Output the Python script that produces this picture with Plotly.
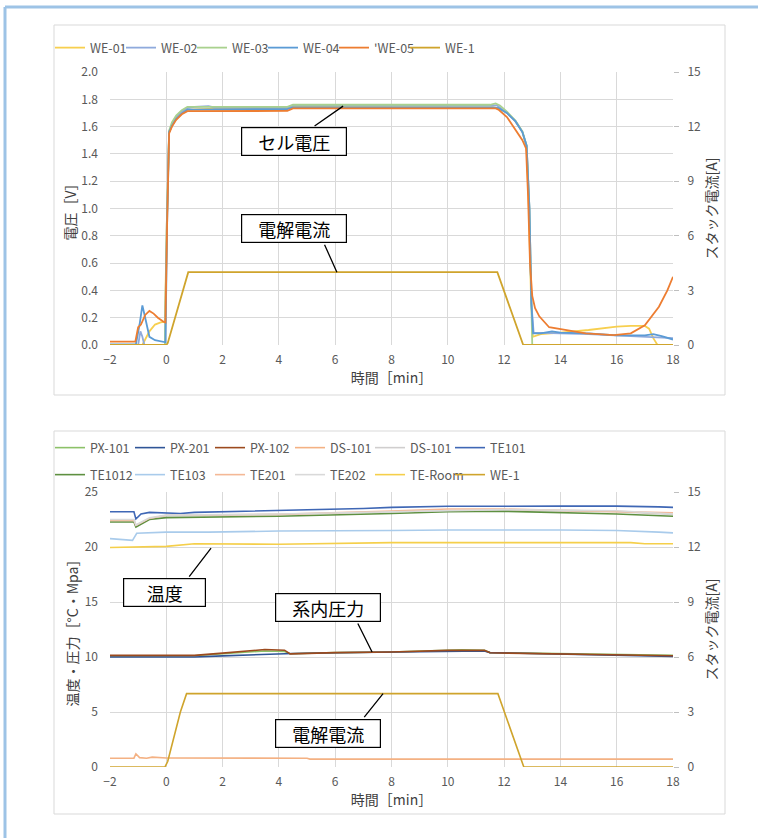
import plotly.graph_objects as go

# ---------------- data: top chart (cell voltage [V], stack current [A]) ----------------
we01_t = [-2, -0.85, -0.6, -0.4, -0.2, -0.05, 0.02, 0.1, 0.2, 0.35, 0.55, 0.75, 1.5, 3, 4.3, 4.5, 6, 8, 10, 11.6,
          11.8, 12.1, 12.4, 12.65, 12.8, 12.88, 12.95, 13.02, 13.3, 14, 15, 16, 16.5, 17, 17.15, 17.3, 17.45, 18]
we01_v = [0.0, 0.0, 0.1, 0.15, 0.165, 0.17, 0.9, 1.56, 1.61, 1.66, 1.7, 1.725, 1.73, 1.73, 1.735, 1.745, 1.745, 1.74,
          1.74, 1.74, 1.735, 1.7, 1.64, 1.56, 1.45, 1.0, 0.4, 0.06, 0.08, 0.09, 0.11, 0.135, 0.14, 0.14, 0.12, 0.05,
          0.0, 0.0]

we02_t = [-2, -1.0, -0.92, -0.85, -0.78, -0.05, 0.02, 0.1, 0.2, 0.35, 0.55, 0.75, 1.0, 1.5, 1.7, 4.3, 4.5, 11.6,
          11.75, 12.1, 12.4, 12.65, 12.8, 12.9, 12.97, 13.05, 13.5, 14, 15, 16, 17, 18]
we02_v = [0.0, 0.0, 0.1, 0.06, 0.0, 0.0, 0.9, 1.56, 1.61, 1.67, 1.71, 1.735, 1.745, 1.75, 1.74, 1.74, 1.755, 1.755,
          1.755, 1.7, 1.64, 1.56, 1.46, 1.0, 0.3, 0.09, 0.09, 0.085, 0.08, 0.07, 0.065, 0.05]

we03_t = [-2, -0.05, 0.02, 0.1, 0.2, 0.35, 0.55, 0.75, 4.3, 4.5, 11.5, 11.7, 11.85, 12.1, 12.4, 12.65, 12.8, 12.9,
          12.97, 13.0, 18]
we03_v = [0.0, 0.0, 0.9, 1.57, 1.63, 1.68, 1.72, 1.745, 1.745, 1.76, 1.76, 1.77, 1.755, 1.71, 1.645, 1.565, 1.46,
          1.0, 0.3, 0.0, 0.0]

we04_t = [-2, -1.08, -0.95, -0.85, -0.75, -0.6, -0.4, -0.1, -0.03, 0.03, 0.1, 0.2, 0.35, 0.55, 0.75, 4.3, 4.5,
          11.6, 11.8, 12.1, 12.4, 12.65, 12.8, 12.9, 12.97, 13.03, 13.3, 13.7, 14, 15, 16, 17, 17.3, 17.6, 18]
we04_v = [0.005, 0.005, 0.15, 0.29, 0.2, 0.06, 0.035, 0.025, 0.02, 0.9, 1.56, 1.605, 1.655, 1.695, 1.725, 1.728,
          1.74, 1.74, 1.735, 1.7, 1.64, 1.56, 1.46, 1.0, 0.3, 0.085, 0.085, 0.1, 0.09, 0.085, 0.07, 0.07, 0.08, 0.065,
          0.04]

we05_t = [-2, -1.1, -1.0, -0.9, -0.75, -0.6, -0.45, -0.3, -0.1, -0.03, 0.03, 0.1, 0.2, 0.35, 0.55, 0.75, 4.3, 4.5,
          11.7, 11.8, 12.1, 12.4, 12.65, 12.78, 12.85, 12.92, 13.0, 13.1, 13.25, 13.6, 14.2, 14.9, 15.9, 16.5, 17.0,
          17.5, 17.8, 18]
we05_v = [0.025, 0.025, 0.13, 0.15, 0.22, 0.25, 0.23, 0.2, 0.17, 0.165, 0.9, 1.55, 1.6, 1.65, 1.69, 1.713, 1.715,
          1.733, 1.733, 1.725, 1.67, 1.575, 1.5, 1.44, 1.1, 0.6, 0.36, 0.27, 0.21, 0.13, 0.11, 0.085, 0.073, 0.085,
          0.145, 0.28, 0.4, 0.5]

cur_top_t = [-2, 0.0, 0.05, 0.26, 0.5, 0.78, 11.76, 12.68, 18]
cur_top_a = [0, 0, 0.1, 1.2, 2.6, 4.0, 4.0, 0, 0]

# ---------------- data: bottom chart (temperature / pressure, stack current) ----------------
px101_t = [-2, 1.0, 2.0, 3.5, 4.2, 4.4, 6, 8, 10.5, 11.3, 11.5, 13, 16, 18]
px101_v = [10.1, 10.12, 10.3, 10.55, 10.5, 10.3, 10.4, 10.45, 10.65, 10.6, 10.4, 10.35, 10.25, 10.15]
px201_t = [-2, 1.0, 2.0, 4.3, 4.5, 6, 8, 10, 11.3, 11.5, 14, 16, 18]
px201_v = [10.0, 10.0, 10.1, 10.3, 10.32, 10.38, 10.42, 10.5, 10.55, 10.4, 10.28, 10.15, 10.05]
px102_t = [-2, 1.0, 2.0, 3.5, 4.2, 4.4, 6, 8, 10, 11.3, 11.5, 14, 16, 18]
px102_v = [10.15, 10.15, 10.35, 10.68, 10.62, 10.28, 10.4, 10.45, 10.6, 10.62, 10.38, 10.3, 10.2, 10.12]
ds101a_t = [-2, -1.15, -1.08, -0.95, -0.7, -0.5, 0.0, 5.0, 5.1, 18]
ds101a_v = [0.8, 0.8, 1.2, 0.85, 0.8, 0.9, 0.82, 0.8, 0.72, 0.72]
ds101b_t = [-2, -1.15, -1.08, -0.6, 0.0, 4, 8, 12, 16, 18]
ds101b_v = [22.45, 22.45, 21.95, 22.6, 22.85, 22.95, 23.2, 23.35, 23.2, 22.95]
te101_t = [-2, -1.15, -1.08, -0.9, -0.6, 0.5, 1.0, 3, 5, 7, 8, 10, 14, 16, 17.5, 18]
te101_v = [23.2, 23.2, 22.55, 23.0, 23.15, 23.05, 23.15, 23.25, 23.4, 23.5, 23.6, 23.7, 23.72, 23.72, 23.65, 23.6]
te1012_t = [-2, -1.15, -1.08, -0.6, 0.0, 4, 8, 10, 12, 14, 16, 18]
te1012_v = [22.27, 22.27, 21.8, 22.5, 22.67, 22.8, 23.05, 23.2, 23.25, 23.15, 23.0, 22.8]
te103_t = [-2, -1.2, -1.05, 0.0, 1.5, 4, 8, 10, 14, 16, 17.5, 18]
te103_v = [20.76, 20.6, 21.25, 21.35, 21.35, 21.45, 21.5, 21.55, 21.55, 21.5, 21.35, 21.28]
te201_t = [-2, -1.15, -1.08, -0.6, 0.0, 4, 8, 10, 12, 16, 18]
te201_v = [22.42, 22.42, 21.97, 22.6, 22.88, 22.97, 23.27, 23.45, 23.45, 23.23, 23.1]
te202_t = [-2, -1.15, -1.08, -0.6, 0.0, 4, 8, 12, 16, 18]
te202_v = [22.5, 22.5, 22.0, 22.65, 22.9, 23.0, 23.2, 23.4, 23.3, 23.0]
teroom_t = [-2, 0.0, 1.0, 4, 8, 10, 14, 16.5, 17, 18]
teroom_v = [19.95, 20.06, 20.3, 20.25, 20.4, 20.4, 20.45, 20.4, 20.3, 20.3]
cur_bot_t = [-2, -0.05, 0.05, 0.3, 0.5, 0.72, 11.78, 12.7, 18]
cur_bot_a = [0, 0, 0.3, 1.8, 3.0, 4.0, 4.0, 0, 0]

top_names = ["WE-01", "WE-02", "WE-03", "WE-04", "'WE-05"]
top_colors = ["#F7CF4F", "#8FAADC", "#A9D18E", "#5B9BD5", "#ED7D31"]
gold = "#CFA42C"

W, H = 758, 838
FONT = "Noto Sans CJK JP"
GRID = "#D9D9D9"
TXT = "#595959"


def pxx(p):
    return p / W


def pxy(p):
    return 1 - p / H


fig = go.Figure()

top_series = [(we01_t, we01_v), (we02_t, we02_v), (we03_t, we03_v), (we04_t, we04_v), (we05_t, we05_v)]
for (t, v), name, col in zip(top_series, top_names, top_colors):
    fig.add_trace(go.Scatter(x=t, y=v, name=name, mode="lines", line=dict(color=col, width=1.8),
                             xaxis="x", yaxis="y", legend="legend"))
fig.add_trace(go.Scatter(x=cur_top_t, y=cur_top_a, name="WE-1", mode="lines", line=dict(color=gold, width=1.8),
                         xaxis="x", yaxis="y2", legend="legend"))

bottom_series = [
    ("PX-101", px101_t, px101_v, "#8CC168", "y3", "legend2"),
    ("PX-201", px201_t, px201_v, "#2F5597", "y3", "legend2"),
    ("PX-102", px102_t, px102_v, "#9C4A1E", "y3", "legend2"),
    ("DS-101", ds101a_t, ds101a_v, "#F4B183", "y3", "legend2"),
    ("DS-101", ds101b_t, ds101b_v, "#D0CECE", "y3", "legend2"),
    ("TE101", te101_t, te101_v, "#3F67B5", "y3", "legend2"),
    ("TE1012", te1012_t, te1012_v, "#5E9040", "y3", "legend3"),
    ("TE103", te103_t, te103_v, "#A9CBEB", "y3", "legend3"),
    ("TE201", te201_t, te201_v, "#F4B896", "y3", "legend3"),
    ("TE202", te202_t, te202_v, "#D9D9D9", "y3", "legend3"),
    ("TE-Room", teroom_t, teroom_v, "#F5CF4A", "y3", "legend3"),
    ("WE-1", cur_bot_t, cur_bot_a, gold, "y4", "legend3"),
]
for name, t, v, col, ya, lg in bottom_series:
    fig.add_trace(go.Scatter(x=t, y=v, name=name, mode="lines", line=dict(color=col, width=1.6),
                             xaxis="x2", yaxis=ya, legend=lg))

tickfont = dict(family=FONT, size=12, color=TXT)
titlefont = dict(family=FONT, size=14, color="#404040")

xdom = [pxx(110), pxx(673)]
top_dom = [pxy(345), pxy(72)]
bot_dom = [pxy(767), pxy(492)]

common_x = dict(range=[-2, 18], dtick=2, tick0=0, showgrid=True, gridcolor=GRID, gridwidth=1, zeroline=False,
                showline=False, ticks="", tickfont=tickfont, automargin=False, ticklabelstandoff=6,
                domain=xdom)
common_y = dict(showgrid=True, gridcolor=GRID, gridwidth=1, zeroline=False, showline=False, ticks="",
                tickfont=tickfont, automargin=False, ticklabelstandoff=11)
common_y2 = dict(showgrid=False, zeroline=False, showline=False, ticks="outside", ticklen=5, tickcolor="#BFBFBF",
                 tickfont=tickfont, automargin=False, ticklabelstandoff=6, side="right")

legfont = dict(family=FONT, size=12.5, color=TXT)

fig.update_layout(
    width=W, height=H, margin=dict(l=0, r=0, t=0, b=0),
    template="none", paper_bgcolor="white", plot_bgcolor="white",
    font=dict(family=FONT, size=12, color=TXT),
    xaxis=dict(**common_x, anchor="y", title=dict(text="時間［min］", font=titlefont, standoff=2)),
    yaxis=dict(**common_y, domain=top_dom, anchor="x", range=[0, 2], dtick=0.2, tickformat=".1f",
               title=dict(text="電圧［V］", font=titlefont, standoff=1)),
    yaxis2=dict(**common_y2, overlaying="y", anchor="x", range=[0, 15], dtick=3,
                title=dict(text="スタック電流[A]", font=titlefont, standoff=7)),
    xaxis2=dict(**common_x, anchor="y3", title=dict(text="時間［min］", font=titlefont, standoff=2)),
    yaxis3=dict(**common_y, domain=bot_dom, anchor="x2", range=[0, 25], dtick=5,
                title=dict(text="温度・圧力［°C・Mpa］", font=titlefont, standoff=2)),
    yaxis4=dict(**common_y2, overlaying="y3", anchor="x2", range=[0, 15], dtick=3,
                title=dict(text="スタック電流[A]", font=titlefont, standoff=7)),
    legend=dict(orientation="h", x=pxx(50), xanchor="left", y=pxy(48), yanchor="middle", entrywidth=26,
                font=legfont, bgcolor="rgba(0,0,0,0)", itemwidth=30),
    legend2=dict(orientation="h", x=pxx(50), xanchor="left", y=pxy(448), yanchor="middle", entrywidth=35,
                 font=legfont, bgcolor="rgba(0,0,0,0)", itemwidth=30),
    legend3=dict(orientation="h", x=pxx(50), xanchor="left", y=pxy(475), yanchor="middle", entrywidth=35,
                 font=legfont, bgcolor="rgba(0,0,0,0)", itemwidth=30),
    showlegend=True,
)

# page frame and chart-area borders
fig.add_shape(type="line", xref="paper", yref="paper", x0=pxx(5), x1=pxx(5), y0=pxy(7), y1=0,
              line=dict(color="#9DC3E6", width=3))
fig.add_shape(type="line", xref="paper", yref="paper", x0=pxx(5), x1=1, y0=pxy(7), y1=pxy(7),
              line=dict(color="#9DC3E6", width=3))
for y0, y1 in [(25, 395), (431, 814)]:
    fig.add_shape(type="rect", xref="paper", yref="paper", x0=pxx(54), x1=pxx(725), y0=pxy(y1), y1=pxy(y0),
                  line=dict(color=GRID, width=1), layer="below")

# callout boxes
boxfont = dict(family=FONT, size=18, color="#000000")
boxes = [
    ("セル電圧", "x", "y", 4.55, 1.491, 102),
    ("電解電流", "x", "y", 4.55, 0.857, 102),
    ("温度", "x2", "y3", -0.08, 15.86, 79),
    ("系内圧力", "x2", "y3", 5.76, 14.5, 102),
    ("電解電流", "x2", "y3", 5.76, 3.045, 102),
]
for text, xr, yr, xv, yv, w in boxes:
    fig.add_annotation(text=text, xref=xr, yref=yr, x=xv, y=yv, showarrow=False, font=boxfont,
                       bordercolor="#000000", borderwidth=1.2, borderpad=1, bgcolor="white", width=w, height=25)

# leader lines (tip at data point, start at box edge)
leaders = [
    ("x", "y", 6.28, 1.75, -30, 21),
    ("x", "y2", 6.06, 4.0, -13, -29),
    ("x2", "y3", 1.59, 19.9, -23, 30),
    ("x2", "y3", 7.31, 10.45, -15, -30),
    ("x2", "y4", 7.70, 4.0, -20, 25),
]
for xr, yr, xv, yv, ax, ay in leaders:
    fig.add_annotation(text="", xref=xr, yref=yr, x=xv, y=yv, showarrow=True, arrowhead=0, arrowwidth=1.3,
                       arrowcolor="#000000", ax=ax, ay=ay, standoff=0, startstandoff=0)

fig.write_html("out.html", config={"displayModeBar": False},
               post_script="document.body.style.margin='0';document.body.style.overflow='hidden';")
